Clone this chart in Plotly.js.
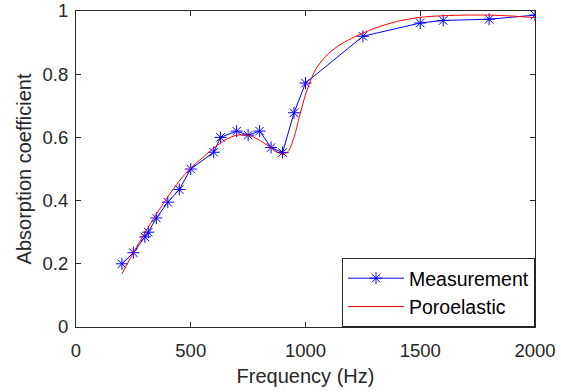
<!DOCTYPE html>
<html>
<head>
<meta charset="utf-8">
<script src="https://cdn.plot.ly/plotly-3.0.1.min.js"></script>
<style>html,body{margin:0;padding:0;background:#fff;}#chart{width:561px;height:392px;}</style>
</head>
<body>
<div id="chart"></div>
<script>
// Measurement data
const measFreq = [200, 250, 300, 315, 350, 400, 450, 500, 600, 630, 700, 750, 800, 850, 900, 950, 1000, 1250, 1500, 1600, 1800, 2000];
const measAbs  = [0.200, 0.235, 0.285, 0.300, 0.345, 0.395, 0.435, 0.500, 0.553, 0.600, 0.620, 0.607, 0.620, 0.568, 0.552, 0.678, 0.772, 0.920, 0.962, 0.970, 0.974, 0.987];

// Poroelastic model curve
const modelFreq = [200, 250, 300, 350, 400, 450, 500, 550, 600, 650, 700, 750, 800, 850, 900, 925, 950, 975, 1000, 1025, 1050, 1100, 1150, 1200, 1300, 1400, 1500, 1600, 1700, 1800, 1900, 2000];
const modelAbs  = [0.168, 0.235, 0.298, 0.357, 0.412, 0.462, 0.503, 0.535, 0.566, 0.592, 0.607, 0.607, 0.591, 0.567, 0.546, 0.556, 0.600, 0.670, 0.735, 0.785, 0.822, 0.865, 0.893, 0.913, 0.945, 0.967, 0.980, 0.985, 0.987, 0.987, 0.984, 0.979];

const seriesNames = ['Measurement', 'Poroelastic'];
const xTicks = [0, 500, 1000, 1500, 2000];
const yTicks = [0, 0.2, 0.4, 0.6, 0.8, 1];
const yTickText = ['0', '0.2', '0.4', '0.6', '0.8', '1'];

const axisColor = '#262626';
const fontFam = '"Liberation Sans", Arial, sans-serif';

const traces = [
  {
    x: measFreq, y: measAbs, name: seriesNames[0], type: 'scatter', mode: 'lines+markers',
    line: {color: '#0000ff', width: 1},
    marker: {symbol: 'asterisk-open', size: 10, color: '#0000ff', line: {color: '#0000ff', width: 1}}
  },
  {
    x: modelFreq, y: modelAbs, name: seriesNames[1], type: 'scatter', mode: 'lines',
    line: {color: '#ff0000', width: 1, shape: 'spline', smoothing: 0.8}
  }
];

const layout = {
  width: 561, height: 392,
  margin: {l: 76, r: 26, t: 11, b: 65},
  paper_bgcolor: '#fff', plot_bgcolor: '#fff',
  font: {family: fontFam, size: 18, color: axisColor},
  showlegend: true,
  legend: {
    x: 1, y: 0, xanchor: 'right', yanchor: 'bottom',
    bgcolor: '#fff', bordercolor: axisColor, borderwidth: 1,
    font: {family: fontFam, size: 19.5, color: '#000'},
    itemwidth: 56,
    tracegroupgap: 0
  },
  xaxis: {
    range: [0, 2000], tickvals: xTicks, ticktext: xTicks.map(String),
    showline: true, linecolor: axisColor, linewidth: 1, mirror: 'ticks',
    ticks: 'inside', ticklen: 5, tickcolor: axisColor, tickwidth: 1,
    ticklabelstandoff: 7, ticklabeloverflow: 'allow',
    showgrid: false, zeroline: false,
    tickfont: {family: fontFam, size: 18.5, color: axisColor},
    title: {text: 'Frequency (Hz)', font: {family: fontFam, size: 20, color: axisColor}, standoff: 8},
    automargin: false
  },
  yaxis: {
    range: [0, 1], tickvals: yTicks, ticktext: yTickText,
    showline: true, linecolor: axisColor, linewidth: 1, mirror: 'ticks',
    ticks: 'inside', ticklen: 5, tickcolor: axisColor, tickwidth: 1,
    ticklabelstandoff: 3, ticklabeloverflow: 'allow',
    showgrid: false, zeroline: false,
    tickfont: {family: fontFam, size: 18.5, color: axisColor},
    title: {text: 'Absorption coefficient', font: {family: fontFam, size: 20, color: axisColor}, standoff: 5},
    automargin: false
  }
};

Plotly.newPlot('chart', traces, layout, {displayModeBar: false, staticPlot: true});
</script>
</body>
</html>
